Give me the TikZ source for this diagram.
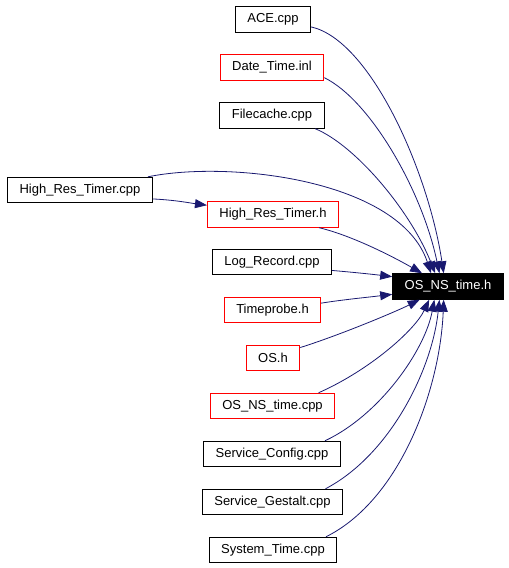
\documentclass[tikz,border=0pt]{standalone}
\usepackage{fontspec}
\setmainfont{Liberation Sans}
\usetikzlibrary{arrows.meta}
\definecolor{incblue}{HTML}{191970}

\begin{document}
\begin{tikzpicture}[x=1pt,y=-1pt,
   filebox/.style={draw=black, line width=0.9pt, minimum height=25.5pt, inner xsep=12pt, inner ysep=0pt, font=\fontsize{13}{15}\selectfont},
   redbox/.style={filebox, draw=red},
   mainbox/.style={filebox, fill=black, text=white},
   incl/.style={draw=incblue, line width=0.8pt, -{Triangle[length=12pt,width=9pt]}}]
   \useasboundingbox (0,0) rectangle (509,568);

   \node[filebox] (ace) at (273,19.5) {ACE.cpp};
   \node[redbox] (dti) at (272,67.5) {Date\_Time.inl};
   \node[filebox] (fc) at (272,115.5) {Filecache.cpp};
   \node[filebox] (hrtcpp) at (80,190) {High\_Res\_Timer.cpp};
   \node[redbox] (hrth) at (273,214.5) {High\_Res\_Timer.h};
   \node[filebox] (lr) at (272,262) {Log\_Record.cpp};
   \node[mainbox] (osh) at (448,286.5) {OS\_NS\_time.h};
   \node[redbox] (tp) at (272.5,310) {Timeprobe.h};
   \node[redbox] (os) at (273,358) {OS.h};
   \node[redbox] (osc) at (272.5,406) {OS\_NS\_time.cpp};
   \node[filebox] (sc) at (272,454) {Service\_Config.cpp};
   \node[filebox] (sg) at (272.5,502) {Service\_Gestalt.cpp};
   \node[filebox] (st) at (273,550) {System\_Time.cpp};

   % into the top of OS_NS_time.h
   \draw[incl] (ace.-11) .. controls (370,40) and (428,170) .. (osh.108);
   \draw[incl] (dti.-11) .. controls (370,100) and (422,190) .. (osh.123);
   \draw[incl] (fc.-17) .. controls (355,145) and (410,210) .. (osh.134);
   \draw[incl] (hrtcpp.11) .. controls (230,160) and (400,180) .. (osh.142);
   \draw[incl] (hrtcpp.-7) .. controls (175,200) and (190,203) .. (hrth.172);
   \draw[incl] (hrth.-16) .. controls (350,235) and (390,255) .. (osh.153);
   % from the left
   \draw[incl] (lr.-8) .. controls (350,272) and (370,274) .. (osh.170);
   \draw[incl] (tp.8) .. controls (340,300) and (370,297) .. (osh.188);
   % into the bottom
   \draw[incl] (os.21) .. controls (340,335) and (395,312) .. (osh.205);
   \draw[incl] (osc.16) .. controls (370,370) and (415,330) .. (osh.215);
   \draw[incl] (sc.14) .. controls (380,415) and (425,350) .. (osh.224);
   \draw[incl] (sg.14) .. controls (390,455) and (432,370) .. (osh.237);
   \draw[incl] (st.14) .. controls (400,500) and (440,390) .. (osh.252);
\end{tikzpicture}
\end{document}
